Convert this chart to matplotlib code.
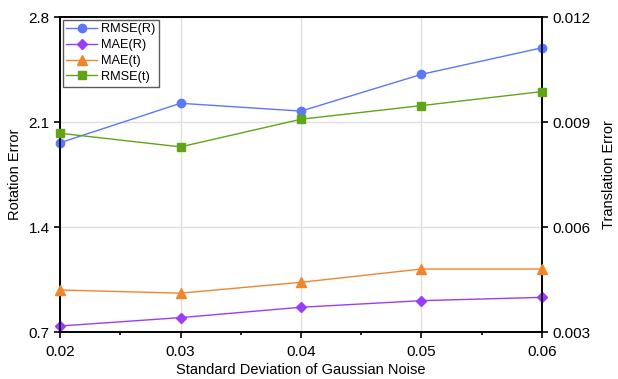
import matplotlib
matplotlib.use('Agg')
import matplotlib.pyplot as plt
from matplotlib.ticker import MultipleLocator

plt.rcParams['font.family'] = ['Liberation Sans', 'DejaVu Sans']

# Data
noise_std = [0.02, 0.03, 0.04, 0.05, 0.06]
rmse_r = [1.962, 2.225, 2.173, 2.418, 2.595]
mae_r = [0.740, 0.796, 0.865, 0.909, 0.931]
mae_t = [0.00420, 0.00411, 0.00442, 0.00480, 0.00480]
rmse_t = [0.00868, 0.00829, 0.00908, 0.00947, 0.00987]

c_blue = '#5a78f8'
c_purple = '#9b3cf6'
c_orange = '#f0862c'
c_green = '#62a418'

fig = plt.figure(figsize=(6.18, 3.79), dpi=100)
ax = fig.add_axes([0.0971, 0.124, 0.7799, 0.831])
ax2 = ax.twinx()

l1, = ax.plot(noise_std, rmse_r, color=c_blue, marker='o', markersize=6, lw=1, label='RMSE(R)', clip_on=False, zorder=3)
l2, = ax.plot(noise_std, mae_r, color=c_purple, marker='D', markersize=5.5, lw=1, label='MAE(R)', clip_on=False, zorder=3)
l3, = ax2.plot(noise_std, mae_t, color=c_orange, marker='^', markersize=6.5, lw=1, label='MAE(t)', clip_on=False, zorder=3)
l4, = ax2.plot(noise_std, rmse_t, color=c_green, marker='s', markersize=5.5, lw=1, label='RMSE(t)', clip_on=False, zorder=3)

ax.set_xlim(0.02, 0.06)
ax.set_ylim(0.7, 2.8)
ax2.set_ylim(0.003, 0.012)
ax.set_xticks(noise_std)
ax.set_xticklabels(['0.02', '0.03', '0.04', '0.05', '0.06'])
ax.xaxis.set_minor_locator(MultipleLocator(0.005))
ax.set_yticks([0.7, 1.4, 2.1, 2.8])
ax2.set_yticks([0.003, 0.006, 0.009, 0.012])
ax2.set_yticklabels(['0.003', '0.006', '0.009', '0.012'])

ax.grid(True, color='#e0e0e0', lw=1)
ax.set_axisbelow(True)

for a in (ax, ax2):
    for s in a.spines.values():
        s.set_linewidth(1.2)
    a.tick_params(direction='out', length=4, width=1.2, labelsize=11)
ax.tick_params(axis='x', which='major', pad=5)
ax.tick_params(axis='x', which='minor', direction='out', length=2.5, width=1.2)

ax.set_xlabel('Standard Deviation of Gaussian Noise', fontsize=10.5, labelpad=3)
ax.set_ylabel('Rotation Error', fontsize=10.5, labelpad=5)
ax2.set_ylabel('Translation Error', fontsize=10.5, labelpad=8)

leg = ax2.legend(handles=[l1, l2, l3, l4], loc='upper left', fontsize=9.2,
                 frameon=True, fancybox=False, edgecolor='#333333',
                 borderaxespad=0.2, handlelength=2.4, handletextpad=0.3,
                 labelspacing=0.3, borderpad=0.3)
leg.get_frame().set_linewidth(1.0)

fig.savefig('out.png', dpi=100)
